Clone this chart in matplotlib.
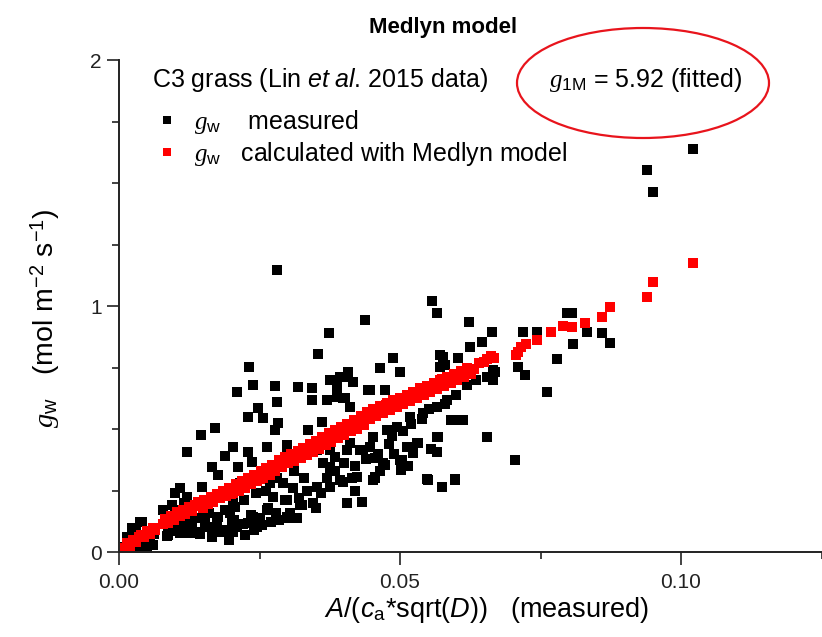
import matplotlib
matplotlib.use('Agg')
import matplotlib.pyplot as plt
from matplotlib.patches import Ellipse
from matplotlib.lines import Line2D
from matplotlib.ticker import MultipleLocator

plt.rcParams['font.family'] = ['Liberation Sans', 'DejaVu Sans']
plt.rcParams['mathtext.fontset'] = 'custom'
plt.rcParams['mathtext.rm'] = 'Liberation Sans'
plt.rcParams['mathtext.it'] = 'Liberation Serif:style=italic'
plt.rcParams['mathtext.sf'] = 'Liberation Sans:style=italic'
plt.rcParams['mathtext.bf'] = 'Liberation Sans:bold'

# measured g_w (black squares)
meas_x = [
    0.0010, 0.0015, 0.0023, 0.0030, 0.0037, 0.0045, 0.0050, 0.0055, 0.0060, 0.0062,
    0.0025, 0.0040, 0.0085, 0.0095, 0.0105, 0.0120, 0.0130, 0.0145, 0.0160, 0.0175,
    0.0190, 0.0205, 0.0220, 0.0235, 0.0250, 0.0265, 0.0280, 0.0100, 0.0100, 0.0109,
    0.0162, 0.0174, 0.0192, 0.0197, 0.0203, 0.0238, 0.0245, 0.0263, 0.0274, 0.0299,
    0.0299, 0.0322, 0.0310, 0.0352, 0.0375, 0.0406, 0.0432, 0.0452, 0.0550, 0.0575,
    0.0598, 0.0126, 0.0144, 0.0087,
    0.0281, 0.0374, 0.0557, 0.0566, 0.0438, 0.0623, 0.0664, 0.0646, 0.0625, 0.0797,
    0.0806, 0.0719, 0.0744, 0.0833, 0.0859, 0.0874, 0.0808, 0.0779, 0.0710, 0.0722,
    0.0762, 0.0488, 0.0500, 0.0571, 0.0580, 0.0603, 0.0669, 0.0666, 0.0447, 0.0473,
    0.0406, 0.0388, 0.0402, 0.0411, 0.0603, 0.0590, 0.0655, 0.0705, 0.0568, 0.0566,
    0.0598, 0.0575, 0.0548, 0.0532, 0.0514, 0.0503, 0.0502, 0.0473, 0.0456, 0.0423,
    0.0393,
    0.0354, 0.0231, 0.0238, 0.0210, 0.0278, 0.0281, 0.0247, 0.0230, 0.0256, 0.0319,
    0.0343, 0.0343, 0.0370, 0.0416, 0.0399, 0.0443, 0.0283, 0.0278, 0.0336, 0.0361,
    0.0171, 0.0146, 0.0121, 0.0203, 0.0189, 0.0230, 0.0263, 0.0299, 0.0299, 0.0237,
    0.0212, 0.0165, 0.0176, 0.0148, 0.0109, 0.0121, 0.0078, 0.0094, 0.0041, 0.0025,
    0.0352, 0.0363, 0.0375, 0.0384, 0.0406, 0.0429, 0.0447, 0.0456, 0.0415, 0.0456,
    0.0375, 0.0399, 0.0406, 0.0432, 0.0299, 0.0317, 0.0326, 0.0295, 0.0265, 0.0244,
    0.0269, 0.0292, 0.0215, 0.0203, 0.0206, 0.0201, 0.0203, 0.0230, 0.0244, 0.0176,
    0.0153, 0.0139, 0.0126, 0.0157, 0.0174, 0.0103, 0.0087,
    0.0375, 0.0411, 0.0434, 0.0452, 0.0477, 0.0495, 0.0518, 0.0541, 0.0566, 0.0584,
    0.0512, 0.0530, 0.0566, 0.0375, 0.0423, 0.0470, 0.0500, 0.0523, 0.0594, 0.0612,
    0.0655, 0.0666, 0.0571, 0.0577, 0.0375, 0.0393, 0.0388, 0.0407, 0.0464, 0.0055,
    0.0115, 0.0135, 0.0150, 0.0165, 0.0180, 0.0195, 0.0210, 0.0225, 0.0240, 0.0255,
    0.0270, 0.0285, 0.0305, 0.0320, 0.0335, 0.0345, 0.0360, 0.0370, 0.0385, 0.0400,
    0.0420, 0.0440, 0.0460, 0.0480, 0.0485, 0.0505, 0.0520, 0.0540, 0.0552, 0.0580,
    0.0600, 0.0620, 0.0635, 0.0330, 0.0312, 0.0282, 0.0262, 0.0222, 0.0188, 0.0160,
    0.0132, 0.0115, 0.0465, 0.0490, 0.0515, 0.0555, 0.0420, 0.0350,
    0.0940, 0.0950, 0.1021,
]
meas_y = [
    0.020, 0.060, 0.098, 0.080, 0.122, 0.040, 0.010, 0.050, 0.030, 0.075,
    0.005, 0.000, 0.065, 0.100, 0.085, 0.090, 0.110, 0.075, 0.100, 0.120,
    0.090, 0.130, 0.115, 0.150, 0.140, 0.180, 0.160, 0.240, 0.170, 0.077,
    0.100, 0.142, 0.089, 0.159, 0.211, 0.142, 0.100, 0.171, 0.224, 0.211,
    0.142, 0.191, 0.260, 0.264, 0.264, 0.199, 0.203, 0.293, 0.293, 0.264,
    0.293, 0.077, 0.077, 0.069,
    1.146, 0.890, 1.020, 0.970, 0.943, 0.935, 0.894, 0.853, 0.833, 0.970,
    0.970, 0.894, 0.894, 0.894, 0.890, 0.850, 0.845, 0.785, 0.752, 0.720,
    0.650, 0.790, 0.730, 0.800, 0.760, 0.790, 0.730, 0.700, 0.660, 0.660,
    0.710, 0.670, 0.626, 0.590, 0.537, 0.537, 0.468, 0.374, 0.468, 0.407,
    0.297, 0.264, 0.297, 0.443, 0.427, 0.374, 0.333, 0.354, 0.305, 0.305,
    0.293,
    0.805, 0.752, 0.680, 0.650, 0.675, 0.610, 0.585, 0.549, 0.545, 0.670,
    0.667, 0.618, 0.618, 0.690, 0.626, 0.660, 0.524, 0.496, 0.496, 0.528,
    0.504, 0.476, 0.407, 0.427, 0.390, 0.407, 0.427, 0.435, 0.402, 0.366,
    0.346, 0.346, 0.313, 0.264, 0.260, 0.224, 0.171, 0.191, 0.122, 0.089,
    0.415, 0.362, 0.346, 0.386, 0.415, 0.415, 0.427, 0.382, 0.300, 0.300,
    0.264, 0.285, 0.199, 0.203, 0.138, 0.138, 0.191, 0.211, 0.179, 0.240,
    0.280, 0.280, 0.280, 0.240, 0.183, 0.130, 0.081, 0.118, 0.130, 0.142,
    0.118, 0.081, 0.142, 0.199, 0.224, 0.089, 0.081,
    0.415, 0.443, 0.415, 0.468, 0.496, 0.508, 0.549, 0.565, 0.590, 0.618,
    0.427, 0.443, 0.468, 0.333, 0.305, 0.362, 0.374, 0.402, 0.537, 0.537,
    0.711, 0.740, 0.752, 0.793, 0.700, 0.711, 0.630, 0.730, 0.750, 0.040,
    0.120, 0.140, 0.150, 0.060, 0.080, 0.050, 0.100, 0.070, 0.090, 0.110,
    0.120, 0.130, 0.160, 0.220, 0.250, 0.200, 0.240, 0.300, 0.330, 0.360,
    0.350, 0.380, 0.400, 0.440, 0.470, 0.490, 0.520, 0.540, 0.580, 0.600,
    0.640, 0.680, 0.700, 0.300, 0.330, 0.300, 0.250, 0.210, 0.170, 0.160,
    0.190, 0.200, 0.330, 0.400, 0.350, 0.420, 0.250, 0.180,
    1.553, 1.463, 1.638,
]

# g_w calculated with the Medlyn model (red squares)
calc_x = [
    0.0010, 0.0015, 0.0020, 0.0025, 0.0030, 0.0035, 0.0040, 0.0045, 0.0050, 0.0055,
    0.0060, 0.0064, 0.0078, 0.0082, 0.0088, 0.0092, 0.0098, 0.0103, 0.0108, 0.0113,
    0.0118, 0.0124, 0.0130, 0.0135, 0.0140, 0.0146, 0.0152, 0.0158, 0.0163, 0.0168,
    0.0174, 0.0180, 0.0185, 0.0190, 0.0196, 0.0202, 0.0208, 0.0213, 0.0218, 0.0224,
    0.0230, 0.0235, 0.0240, 0.0246, 0.0252, 0.0257, 0.0262, 0.0268, 0.0273, 0.0278,
    0.0284, 0.0290, 0.0295, 0.0300, 0.0306, 0.0312, 0.0318, 0.0323, 0.0328, 0.0334,
    0.0340, 0.0345, 0.0350, 0.0356, 0.0362, 0.0368, 0.0373, 0.0378, 0.0384, 0.0390,
    0.0395, 0.0400, 0.0406, 0.0412, 0.0418, 0.0424, 0.0430, 0.0436, 0.0442, 0.0447,
    0.0452, 0.0458, 0.0464, 0.0470, 0.0476, 0.0482, 0.0488, 0.0494, 0.0500, 0.0506,
    0.0512, 0.0518, 0.0524, 0.0530, 0.0536, 0.0542, 0.0548, 0.0554, 0.0560, 0.0566,
    0.0572, 0.0578, 0.0584, 0.0590, 0.0596, 0.0602, 0.0608, 0.0614, 0.0620, 0.0626,
    0.0632, 0.0640, 0.0650, 0.0655, 0.0662, 0.0668, 0.0706, 0.0710, 0.0716, 0.0724,
    0.0744, 0.0768, 0.0790, 0.0806, 0.0830, 0.0860, 0.0874, 0.0940, 0.0950, 0.1021,
    0.0150, 0.0200, 0.0250, 0.0310, 0.0350, 0.0400, 0.0450, 0.0500, 0.0550, 0.0600,
    0.0170, 0.0222, 0.0275, 0.0330, 0.0380, 0.0428, 0.0475, 0.0525, 0.0575, 0.0622,
]
calc_y = [
    0.015, 0.035, 0.025, 0.050, 0.040, 0.062, 0.070, 0.060, 0.085, 0.075,
    0.098, 0.088, 0.112, 0.135, 0.118, 0.145, 0.130, 0.162, 0.145, 0.172,
    0.155, 0.182, 0.165, 0.192, 0.202, 0.185, 0.212, 0.195, 0.225, 0.205,
    0.235, 0.218, 0.248, 0.228, 0.260, 0.240, 0.275, 0.250, 0.288, 0.262,
    0.300, 0.275, 0.315, 0.288, 0.328, 0.300, 0.342, 0.315, 0.355, 0.330,
    0.372, 0.345, 0.385, 0.360, 0.398, 0.370, 0.410, 0.382, 0.422, 0.395,
    0.438, 0.408, 0.452, 0.420, 0.468, 0.435, 0.482, 0.448, 0.495, 0.462,
    0.508, 0.475, 0.522, 0.490, 0.538, 0.502, 0.552, 0.518, 0.568, 0.540,
    0.580, 0.552, 0.592, 0.565, 0.605, 0.578, 0.618, 0.590, 0.628, 0.602,
    0.640, 0.612, 0.652, 0.625, 0.665, 0.638, 0.675, 0.650, 0.688, 0.662,
    0.700, 0.675, 0.712, 0.688, 0.722, 0.700, 0.735, 0.712, 0.748, 0.725,
    0.745, 0.768, 0.772, 0.785, 0.795, 0.790, 0.800, 0.815, 0.835, 0.845,
    0.862, 0.894, 0.920, 0.915, 0.930, 0.955, 0.996, 1.037, 1.098, 1.175,
    0.180, 0.235, 0.295, 0.375, 0.430, 0.490, 0.565, 0.612, 0.662, 0.708,
    0.222, 0.280, 0.348, 0.412, 0.470, 0.538, 0.598, 0.650, 0.705, 0.745,
]

fig = plt.figure(figsize=(8.22, 6.37), dpi=100)
ax = fig.add_axes([119 / 822, 1 - 552 / 637, 702.5 / 822, 492 / 637])

ax.plot(meas_x, meas_y, 's', color='black', markersize=7.5, markeredgewidth=0)
ax.plot(calc_x, calc_y, 's', color='#ff0000', markersize=7.5, markeredgewidth=0)

ax.set_xlim(0, 0.125)
ax.set_ylim(0, 2)
ax.xaxis.set_major_locator(MultipleLocator(0.05))
ax.xaxis.set_minor_locator(MultipleLocator(0.025))
ax.yaxis.set_major_locator(MultipleLocator(1))
ax.yaxis.set_minor_locator(MultipleLocator(0.25))
ax.xaxis.set_major_formatter(plt.FuncFormatter(lambda v, p: '%.2f' % v))
ax.yaxis.set_major_formatter(plt.FuncFormatter(lambda v, p: '%d' % round(v)))
ax.tick_params(which='major', direction='out', length=9, width=1.2, labelsize=15, colors='#222222')
ax.tick_params(which='minor', direction='out', length=5, width=1.2, colors='#222222')
ax.tick_params(axis='x', pad=6)
for s in ['top', 'right']:
    ax.spines[s].set_visible(False)
for s in ['left', 'bottom']:
    ax.spines[s].set_linewidth(1.4)
    ax.spines[s].set_color('#222222')

ax.set_xlabel(r'$\mathsf{A}$/($\mathsf{c}_{\mathrm{a}}$*sqrt($\mathsf{D}$))   (measured)',
              fontsize=19.5)
ax.set_ylabel(r'$g_{\mathrm{w}}$   (mol m$^{-2}$ s$^{-1}$)', fontsize=20.5)
ax.xaxis.set_label_coords((487 - 119) / 702.5, -(610 - 552) / 492)
ax.yaxis.set_label_coords(-(119 - 45) / 702.5, (552 - 318) / 492)
ax.yaxis.label.set_va('center')
ax.xaxis.label.set_va('center')

fig.text(443 / 822, 1 - 28 / 637, 'Medlyn model', fontsize=16, fontweight='bold',
         ha='center', va='center')
fig.text(152 / 822, 1 - 80 / 637, r'C3 grass (Lin $\mathsf{et\ al}$. 2015 data)',
         fontsize=18, ha='left', va='center')
fig.text(549 / 822, 1 - 80 / 637, r'$g_{\mathrm{1M}}$ = 5.92 (fitted)',
         fontsize=18, ha='left', va='center')
fig.patches.append(Ellipse((643 / 822, 1 - 83 / 637), 252 / 822, 110 / 637,
                           transform=fig.transFigure, fill=False,
                           edgecolor='#e8141c', linewidth=1.6))

handles = [
    Line2D([], [], marker='s', linestyle='none', color='black', markersize=6, markeredgewidth=0),
    Line2D([], [], marker='s', linestyle='none', color='#ff0000', markersize=6, markeredgewidth=0),
]
ax.legend(handles, [r'$g_{\mathrm{w}}$    measured', r'$g_{\mathrm{w}}$   calculated with Medlyn model'],
          loc='upper left', bbox_to_anchor=(157 / 822, 1 - 108 / 637),
          bbox_transform=fig.transFigure, frameon=False, fontsize=18,
          handletextpad=0.7, labelspacing=0.15, borderaxespad=0, borderpad=0,
          handlelength=0.8)

fig.savefig('out.png', dpi=100)
